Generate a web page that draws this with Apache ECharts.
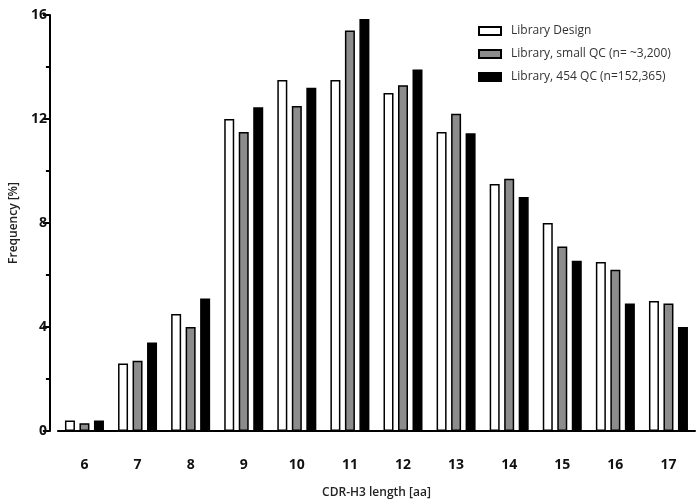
<!DOCTYPE html>
<html>
<head>
<meta charset="utf-8">
<script src="https://cdn.jsdelivr.net/npm/echarts@6/dist/echarts.min.js"></script>
<style>
  html, body { margin: 0; padding: 0; background: #fff; }
  #chart { width: 700px; height: 504px; }
</style>
</head>
<body>
<div id="chart"></div>
<script>
// CDR-H3 length distribution
const lengths = ['6', '7', '8', '9', '10', '11', '12', '13', '14', '15', '16', '17'];
const design = [0.4, 2.6, 4.5, 12.0, 13.5, 13.5, 13.0, 11.5, 9.5, 8.0, 6.5, 5.0];
const smallQC = [0.3, 2.7, 4.0, 11.5, 12.5, 15.4, 13.3, 12.2, 9.7, 7.1, 6.2, 4.9];
const qc454 = [0.4, 3.4, 5.1, 12.45, 13.2, 15.85, 13.9, 11.45, 9.0, 6.55, 4.9, 4.0];

const font = '"Open Sans", Lato, sans-serif';

function bar(name, data, color) {
  return {
    name: name,
    type: 'bar',
    data: data,
    barWidth: 10,
    barGap: '45%',
    itemStyle: { color: color, borderColor: '#000', borderWidth: 1.5 }
  };
}

const chart = echarts.init(document.getElementById('chart'));
chart.setOption({
  animation: false,
  textStyle: { fontFamily: font },
  grid: { left: 53, right: 5, top: 15, bottom: 72 },
  legend: {
    orient: 'vertical',
    left: 473,
    top: 20,
    icon: 'rect',
    itemWidth: 22,
    itemHeight: 8,
    itemGap: 11,
    textStyle: { fontSize: 12, color: '#333', fontFamily: font, padding: [0, 0, 0, 5] },
    data: ['Library Design', 'Library, small QC (n= ~3,200)', 'Library, 454 QC (n=152,365)']
  },
  xAxis: {
    type: 'category',
    data: lengths,
    offset: 20,
    name: 'CDR-H3 length [aa]',
    nameLocation: 'middle',
    nameGap: 36,
    nameTextStyle: { fontSize: 12, fontWeight: 600, color: '#222' },
    axisLine: { lineStyle: { color: '#000', width: 2 } },
    axisTick: { alignWithLabel: true, length: 5, lineStyle: { color: '#000', width: 2 } },
    axisLabel: { fontSize: 14, fontWeight: 'bold', color: '#111', margin: 7 }
  },
  yAxis: {
    type: 'value',
    min: 0,
    max: 16,
    interval: 4,
    offset: 8,
    name: 'Frequency [%]',
    nameLocation: 'middle',
    nameGap: 26,
    nameTextStyle: { fontSize: 12, fontWeight: 600, color: '#222' },
    axisLine: { show: true, lineStyle: { color: '#000', width: 2 } },
    axisTick: { show: true, length: 7, lineStyle: { color: '#000', width: 2 } },
    minorTick: { show: true, splitNumber: 2, length: 4, lineStyle: { color: '#000', width: 2 } },
    splitLine: { show: false },
    axisLabel: { fontSize: 14, fontWeight: 'bold', color: '#111', margin: 3 }
  },
  series: [
    bar('Library Design', design, '#ffffff'),
    bar('Library, small QC (n= ~3,200)', smallQC, '#8c8c8c'),
    bar('Library, 454 QC (n=152,365)', qc454, '#000000')
  ]
});
</script>
</body>
</html>
